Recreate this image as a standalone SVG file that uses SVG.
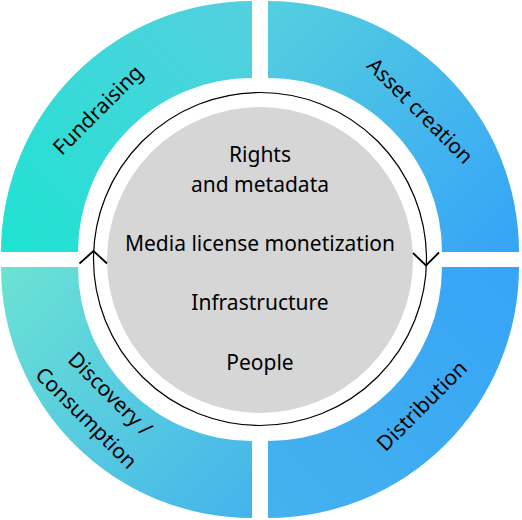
<svg xmlns="http://www.w3.org/2000/svg" width="522" height="520" viewBox="0 0 522 520">
<style>
.lbl{font-family:"Noto Sans","Liberation Sans",sans-serif;font-size:21px;fill:#000;text-anchor:middle}
.ring{fill:none;stroke:#000;stroke-width:1.2}
.chev{fill:none;stroke:#000;stroke-width:1.8}
</style>
<defs>
<linearGradient id="gTL" gradientUnits="userSpaceOnUse" x1="1" y1="252" x2="252" y2="1"><stop offset="0" stop-color="#1fe3d2"/><stop offset="1" stop-color="#55cfdf"/></linearGradient>
<linearGradient id="gTR" gradientUnits="userSpaceOnUse" x1="268" y1="1" x2="519" y2="252"><stop offset="0" stop-color="#55cfdf"/><stop offset="1" stop-color="#36a3f7"/></linearGradient>
<linearGradient id="gBL" gradientUnits="userSpaceOnUse" x1="1" y1="267" x2="252" y2="518"><stop offset="0" stop-color="#6ae3d3"/><stop offset="1" stop-color="#44b3ec"/></linearGradient>
<linearGradient id="gBR" gradientUnits="userSpaceOnUse" x1="519" y1="267" x2="268" y2="518"><stop offset="0" stop-color="#37a4f7"/><stop offset="1" stop-color="#44b2ed"/></linearGradient>
</defs>
<g id="fundraising">
<path d="M252,1 A251,251 0 0 0 1,252 L78,252 A174,174 0 0 1 252,78 Z" fill="url(#gTL)"/>
<text class="lbl" transform="translate(103,115) rotate(-45)">Fundraising</text>
</g>
<g id="asset-creation">
<path d="M268,1 A251,251 0 0 1 519,252 L442,252 A174,174 0 0 0 268,78 Z" fill="url(#gTR)"/>
<text class="lbl" transform="translate(415,116) rotate(45)">Asset creation</text>
</g>
<g id="discovery">
<path d="M1,267 A251,251 0 0 0 252,518 L252,441 A174,174 0 0 1 78,267 Z" fill="url(#gBL)"/>
<text class="lbl" transform="translate(105,399) rotate(45)">Discovery /</text>
<text class="lbl" transform="translate(81,423) rotate(45)">Consumption</text>
</g>
<g id="distribution">
<path d="M519,267 A251,251 0 0 1 268,518 L268,441 A174,174 0 0 0 442,267 Z" fill="url(#gBR)"/>
<text class="lbl" transform="translate(427,411) rotate(-45)">Distribution</text>
</g>
<g id="core">
<circle cx="260" cy="260" r="153" fill="#d6d6d6"/>
<text class="lbl" x="260" y="162">Rights</text>
<text class="lbl" x="260" y="192">and metadata</text>
<text class="lbl" x="260" y="251">Media license monetization</text>
<text class="lbl" x="260" y="310">Infrastructure</text>
<text class="lbl" x="260" y="370">People</text>
</g>
<g id="connectors">
<circle class="ring" cx="260" cy="259" r="166.5"/>
<polyline class="chev" points="79.5,263.5 93.5,251 107,263.5"/>
<polyline class="chev" points="413,253 426,265.5 439,252.5"/>
</g>
</svg>
